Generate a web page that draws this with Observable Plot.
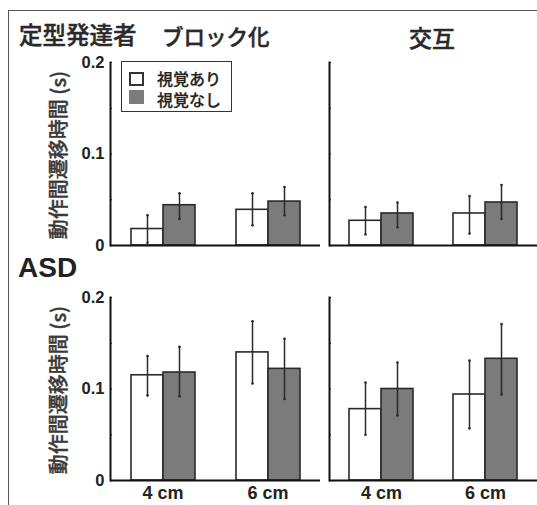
<!DOCTYPE html>
<html>
<head>
<meta charset="utf-8">
<script src="https://cdn.jsdelivr.net/npm/d3@7"></script>
<script src="https://cdn.jsdelivr.net/npm/@observablehq/plot@0.6"></script>
<style>
  body { margin: 0; background: white; }
  #wrap { position: relative; width: 537px; height: 505px; overflow: hidden; background: white; }
  .frame { position: absolute; left: 8px; top: 10px; width: 540px; height: 500px;
           border-top: 1.5px solid #555; border-left: 1.5px solid #555; }
  .abs { position: absolute; white-space: nowrap; }
  .jp { font-family: "Noto Sans CJK JP", sans-serif; color: #2a2a2a; line-height: 1; font-weight: 500;
        -webkit-text-stroke: 0.45px #2a2a2a; }
  .ylab { font-family: "Noto Sans CJK JP", sans-serif; color: #3a3a3a; font-size: 20px; line-height: 1; font-weight: 500;
          -webkit-text-stroke: 0.4px #3a3a3a;
          transform: translate(-50%, -50%) rotate(-90deg); }
  .legend { position: absolute; left: 121px; top: 61px; width: 109px; height: 49px;
            border: 1.5px solid #333; background: white; }
  .sw { position: absolute; width: 11px; height: 10px; border: 2px solid #333; }
  .lt { position: absolute; font-family: "Noto Sans CJK JP", sans-serif; font-size: 16px; color: #222; line-height: 1; font-weight: 500;
        -webkit-text-stroke: 0.25px #222; }
  svg { position: absolute; background: transparent; overflow: visible; }
</style>
</head>
<body>
<div id="wrap">
  <div class="frame"></div>
</div>
<script>
// ---- data ----
const groups = ["定型発達者", "ASD"];
const conditions = ["ブロック化", "交互"];
const sizes = ["4 cm", "6 cm"];
const visions = ["視覚あり", "視覚なし"];
const yTicks = [0, 0.1, 0.2];
const yMinorTicks = [0, 0.05, 0.1, 0.15, 0.2];
const yLabel = "動作間遷移時間 (s)";

// order within each array: 4cm-あり, 4cm-なし, 6cm-あり, 6cm-なし
const tdBlockMean = [0.018, 0.044, 0.039, 0.048];
const tdBlockLow  = [0.003, 0.029, 0.022, 0.033];
const tdBlockHigh = [0.033, 0.057, 0.057, 0.064];
const tdAltMean   = [0.027, 0.035, 0.035, 0.047];
const tdAltLow    = [0.012, 0.020, 0.013, 0.029];
const tdAltHigh   = [0.042, 0.047, 0.054, 0.066];
const asdBlockMean = [0.115, 0.118, 0.140, 0.122];
const asdBlockLow  = [0.093, 0.092, 0.106, 0.089];
const asdBlockHigh = [0.136, 0.146, 0.174, 0.155];
const asdAltMean   = [0.078, 0.100, 0.094, 0.133];
const asdAltLow    = [0.050, 0.071, 0.057, 0.094];
const asdAltHigh   = [0.107, 0.129, 0.131, 0.171];

function rows(mean, low, high) {
  const out = [];
  sizes.forEach((s, i) => visions.forEach((v, j) => {
    const k = i * 2 + j;
    out.push({size: s, vision: v, mean: mean[k], lo: low[k], hi: high[k]});
  }));
  return out;
}

function panel(data, {showYLabels, showX, marginLeft, width}) {
  const height = 12 + 183 + (showX ? 25 : 10);
  return Plot.plot({
    width, height,
    marginTop: 12, marginBottom: showX ? 25 : 10, marginLeft, marginRight: 0,
    style: {background: "transparent", fontFamily: "Liberation Sans, Arial, sans-serif", color: "#222", overflow: "visible"},
    fx: {domain: sizes, padding: 0, label: null, axis: null},
    x: {domain: visions, paddingInner: 0, paddingOuter: 0.615, axis: null},
    y: {domain: [0, 0.2], axis: null},
    color: {domain: visions, range: ["#ffffff", "#7a7b7a"]},
    marks: [
      Plot.barY(data, {fx: "size", x: "vision", y: "mean", fill: "vision", stroke: "#2a2a2a", strokeWidth: 1.6}),
      Plot.ruleX(data, {fx: "size", x: "vision", y1: "lo", y2: "hi", stroke: "#2a2a2a", strokeWidth: 1.5}),
      Plot.dot(data, {fx: "size", x: "vision", y: "lo", r: 1.3, fill: "#2a2a2a"}),
      Plot.dot(data, {fx: "size", x: "vision", y: "hi", r: 1.3, fill: "#2a2a2a"}),
      Plot.ruleY([0], {stroke: "#111", strokeWidth: 2}),
      Plot.axisY({ticks: yMinorTicks, tickSize: -2, tickFormat: () => "", stroke: "#111"}),
      showYLabels ? Plot.axisY({ticks: yTicks, tickSize: 0, tickPadding: 6, label: null,
        tickFormat: d => d === 0 ? "0" : d.toFixed(1), fontSize: 16.5, fontWeight: "bold", fill: "#222"}) : null,
      showX ? Plot.axisFx({anchor: "bottom", tickSize: 0, tickPadding: 6, label: null, fontSize: 18, fontWeight: "bold", fill: "#222"}) : null,
      Plot.frame({anchor: "left", facetAnchor: "left", stroke: "#111", strokeWidth: 2})
    ]
  });
}

const wrap = document.getElementById("wrap");
function place(el, left, top) {
  el.style.left = left + "px";
  el.style.top = top + "px";
  wrap.appendChild(el);
}

place(panel(rows(tdBlockMean, tdBlockLow, tdBlockHigh), {showYLabels: true, showX: false, marginLeft: 55, width: 265}), 55, 50);
place(panel(rows(tdAltMean, tdAltLow, tdAltHigh), {showYLabels: false, showX: false, marginLeft: 10, width: 218}), 319, 50);
place(panel(rows(asdBlockMean, asdBlockLow, asdBlockHigh), {showYLabels: true, showX: true, marginLeft: 55, width: 265}), 55, 285);
place(panel(rows(asdAltMean, asdAltLow, asdAltHigh), {showYLabels: false, showX: true, marginLeft: 10, width: 218}), 319, 285);

function text(cls, str, left, top, css = "") {
  const d = document.createElement("div");
  d.className = "abs " + cls;
  d.textContent = str;
  d.style.cssText += css;
  place(d, left, top);
  return d;
}

// titles
text("jp", groups[0], 19, 23, "font-size:23.5px;");
text("jp", conditions[0], 162, 25, "font-size:21.5px;");
text("jp", conditions[1], 432, 26, "font-size:23px;transform:translateX(-50%);");
text("", groups[1], 18, 254, "font-family:'Liberation Sans',Arial,sans-serif;font-weight:bold;font-size:28px;line-height:1;color:#222;");

// y labels
text("ylab", yLabel, 58, 155);
text("ylab", yLabel, 58, 390);

// legend
const lg = document.createElement("div");
lg.className = "legend";
wrap.appendChild(lg);
visions.forEach((v, i) => {
  const sw = document.createElement("div");
  sw.className = "sw";
  sw.style.left = "7px";
  sw.style.top = (10 + i * 18) + "px";
  sw.style.background = i === 0 ? "#fff" : "#7a7b7a";
  if (i === 1) sw.style.borderColor = "#7a7b7a";
  lg.appendChild(sw);
  const t = document.createElement("div");
  t.className = "lt";
  t.textContent = v;
  t.style.left = "35px";
  t.style.top = (8 + i * 21) + "px";
  lg.appendChild(t);
});
</script>
</body>
</html>
